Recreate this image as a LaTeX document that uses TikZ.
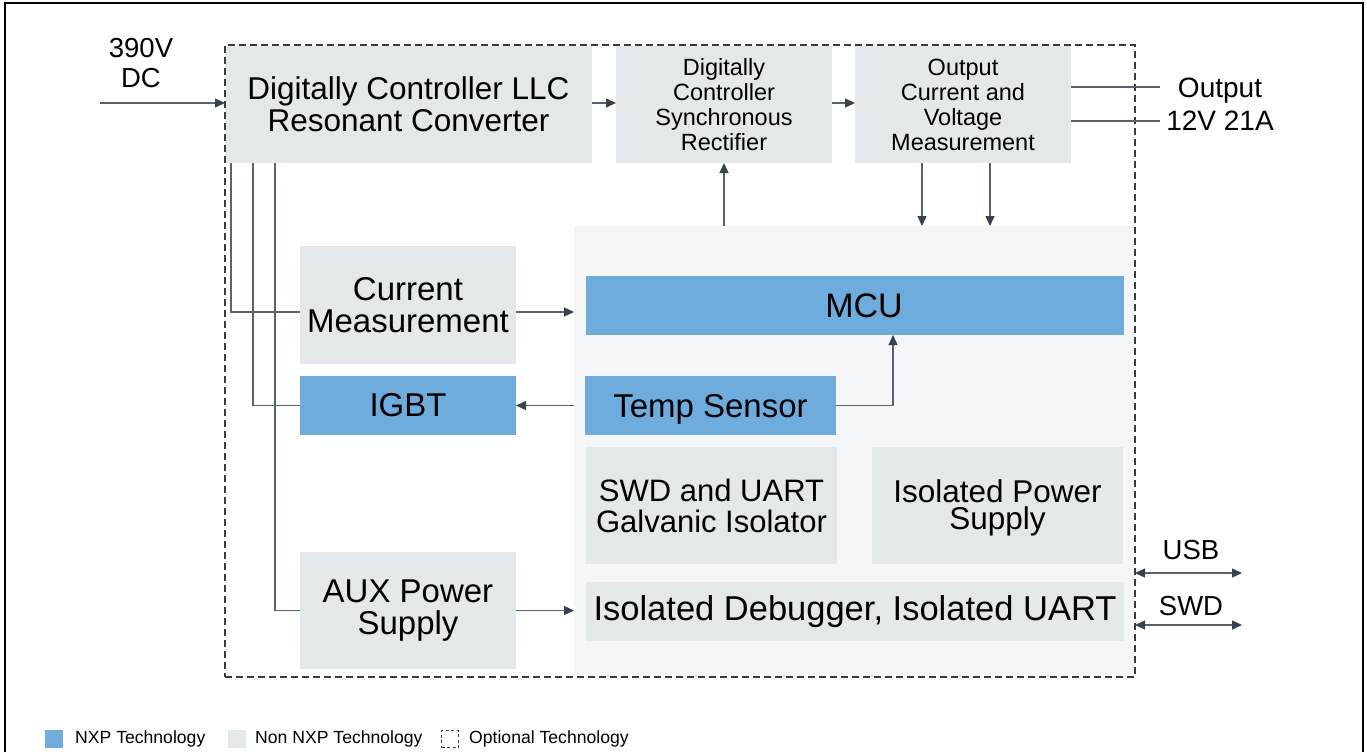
\documentclass[tikz,border=0pt]{standalone}
\usepackage{fontspec}
\setmainfont{Liberation Sans}
\usetikzlibrary{arrows.meta}
\definecolor{nxpblue}{HTML}{6EACDD}
\definecolor{nongray}{HTML}{E3E8EB}
\definecolor{panelc}{HTML}{F4F6F8}
\definecolor{wirec}{HTML}{58636D}
\definecolor{tipc}{HTML}{36424D}
\definecolor{dashc}{HTML}{3A3A3A}
\newcommand{\fs}[2]{\fontsize{#1}{#2}\selectfont}
\tikzset{
  box/.style={inner sep=0pt, outer sep=0pt, align=center, text=black},
  gbox/.style={box, fill=nongray},
  bbox/.style={box, fill=nxpblue},
  wire/.style={draw=wirec, line width=1.3pt},
  arr/.style={wire, -{Triangle[length=10pt,width=9pt,color=tipc]}},
  darr/.style={wire, {Triangle[length=10pt,width=9pt,color=tipc]}-{Triangle[length=10pt,width=9pt,color=tipc]}},
  lbl/.style={inner sep=0pt, align=center, text=black},
}
\begin{document}
\begin{tikzpicture}[x=1pt,y=-1pt]
\useasboundingbox (0,0) rectangle (1367,752);
% outer frame
\draw[line width=2.5pt, black] (5,752) -- (5,3) -- (1363,3) -- (1363,752);
% panel
\node[box, fill=panelc, minimum width=559pt, minimum height=451pt] (panel) at (853.5,451.5) {};
% boxes
\node[gbox, minimum width=367pt, minimum height=117pt, font=\fs{31.5}{32}] (llc) at (408.5,104.5) {Digitally Controller LLC\\Resonant Converter};
\node[gbox, minimum width=216pt, minimum height=117pt, font=\fs{23.5}{25}] (sync) at (724,104.5) {Digitally\\Controller\\Synchronous\\Rectifier};
\node[gbox, minimum width=216pt, minimum height=117pt, font=\fs{23.5}{25}] (outb) at (963,104.5) {Output\\Current and\\Voltage\\Measurement};
\node[gbox, minimum width=216pt, minimum height=118pt, font=\fs{33}{32}] (cm) at (408,305) {Current\\Measurement};
\node[bbox, minimum width=216pt, minimum height=59pt, font=\fs{33}{32}] (igbt) at (408,405.5) {IGBT};
\node[bbox, minimum width=538pt, minimum height=59pt] (mcu) at (855,305.5) {};
\node[lbl, font=\fs{34}{32}] (mcut) at (864,305.5) {MCU};
\node[bbox, minimum width=251pt, minimum height=59pt, text depth=0pt, font=\fs{33}{32}] (temp) at (710.5,405.5) {Temp Sensor};
\node[gbox, minimum width=251pt, minimum height=117pt, font=\fs{31}{31}] (swd) at (711.5,505.5) {SWD and UART\\Galvanic Isolator};
\node[gbox, minimum width=251pt, minimum height=117pt] (ips) at (997.5,505.5) {};
\node[lbl, font=\fs{31.5}{27.5}] (ipst) at (997.5,508) {Isolated Power\\Supply};
\node[gbox, minimum width=216pt, minimum height=117pt, font=\fs{33}{32}] (aux) at (408,610.5) {AUX Power\\Supply};
\node[gbox, minimum width=538pt, minimum height=59pt, font=\fs{34.5}{32}] (dbg) at (855,611.5) {Isolated Debugger, Isolated UART};
% optional dashed boundary
\node[inner sep=0pt, outer sep=0pt, draw=dashc, line width=1.3pt, dash pattern=on 7pt off 4pt, minimum width=910pt, minimum height=632pt] (opt) at (680,361) {};
% input
\node[lbl, font=\fs{27.5}{30}] (vin) at (141,63) {390V\\DC};
\coordinate (vinS) at (100,103);
\draw[arr] (vinS) -- (vinS -| llc.west);
\draw[arr] (llc.east |- vinS) -- (sync.west |- vinS);
\draw[arr] (sync.east |- vinS) -- (outb.west |- vinS);
% output
\node[lbl, font=\fs{28}{33}] (vout) at (1220,104.5) {Output\\12V 21A};
\coordinate (o1) at (1160,87);
\coordinate (o2) at (1160,121);
\draw[wire] (outb.east |- o1) -- (o1);
\draw[wire] (outb.east |- o2) -- (o2);
% vertical connections
\draw[arr] (sync.south |- panel.north) -- (sync.south);
\draw[arr] ([xshift=-41pt]outb.south) -- ([xshift=-41pt]outb.south |- panel.north);
\draw[arr] ([xshift=27pt]outb.south) -- ([xshift=27pt]outb.south |- panel.north);
% LLC feeders
\draw[wire] ([xshift=6pt]llc.south west) |- ([yshift=-7pt]cm.west);
\draw[wire] ([xshift=28pt]llc.south west) |- (igbt.west);
\draw[wire] ([xshift=50pt]llc.south west) |- (aux.west);
% into panel
\draw[arr] ([yshift=-7pt]cm.east) -- ([yshift=-7pt]cm.east -| panel.west);
\draw[arr] (igbt.east -| panel.west) -- (igbt.east);
\draw[arr] (aux.east) -- (aux.east -| panel.west);
\draw[arr] (temp.east) -| ([xshift=38pt]mcu.south);
% USB / SWD
\coordinate (usbE) at (1242,573);
\coordinate (swdE) at (1242,625);
\draw[darr] (opt.east |- usbE) -- (usbE);
\draw[darr] (opt.east |- swdE) -- (swdE);
\node[lbl, font=\fs{27.5}{30}] (usbt) at (1191,550) {USB};
\node[lbl, font=\fs{27.5}{30}] (swdt) at (1191,606) {SWD};
% legend
\node[box, fill=nxpblue, minimum size=18pt] (lg1) at (54,739) {};
\node[lbl, anchor=west, font=\fs{17.6}{20}] (lg1t) at (75,739) {NXP Technology};
\node[box, fill=nongray, minimum size=18pt] (lg2) at (237,739) {};
\node[lbl, anchor=west, font=\fs{17.6}{20}] (lg2t) at (255,739) {Non NXP Technology};
\node[box, draw=dashc, line width=1pt, dash pattern=on 3pt off 2.5pt, minimum size=17pt] (lg3) at (450,739) {};
\node[lbl, anchor=west, font=\fs{17.6}{20}] (lg3t) at (469,739) {Optional Technology};
\end{tikzpicture}
\end{document}
